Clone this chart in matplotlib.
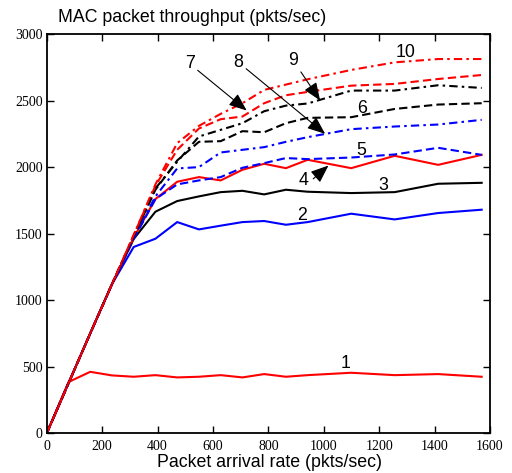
import matplotlib
matplotlib.use("Agg")
import matplotlib.pyplot as plt

# arrival rate (pkts/sec)
rate = [0, 78.5, 157, 235.5, 314, 392.5, 471, 549.5, 628, 706.5, 785, 863.5,
        942, 1099, 1256, 1413, 1570]

# MAC throughput (pkts/sec), one list per curve label
thr_1 = [0, 385, 462, 435, 425, 437, 420, 425, 437, 420, 445, 425, 437, 455, 437, 445, 425]
thr_2 = [0, 375, 750, 1120, 1400, 1462, 1587, 1532, 1560, 1587, 1595, 1567, 1587, 1650, 1607, 1655, 1680]
thr_3 = [0, 375, 750, 1120, 1460, 1665, 1745, 1780, 1812, 1822, 1795, 1830, 1815, 1805, 1812, 1875, 1882]
thr_4 = [0, 375, 750, 1120, 1470, 1760, 1890, 1925, 1900, 1980, 2025, 1992, 2055, 1992, 2085, 2017, 2092]
thr_5 = [0, 375, 750, 1120, 1460, 1760, 1870, 1900, 1925, 1995, 2030, 2068, 2060, 2072, 2095, 2145, 2092]
thr_6 = [0, 375, 750, 1120, 1480, 1830, 2050, 2190, 2195, 2270, 2262, 2330, 2370, 2375, 2437, 2470, 2480]
thr_7 = [0, 375, 750, 1120, 1490, 1860, 2130, 2290, 2360, 2380, 2480, 2540, 2565, 2612, 2625, 2662, 2692]
thr_8 = [0, 375, 750, 1120, 1470, 1780, 1990, 2000, 2110, 2130, 2150, 2190, 2225, 2285, 2305, 2320, 2355]
thr_9 = [0, 375, 750, 1120, 1480, 1840, 2040, 2230, 2280, 2330, 2420, 2462, 2478, 2575, 2575, 2615, 2595]
thr_10 = [0, 375, 750, 1120, 1490, 1870, 2180, 2310, 2400, 2480, 2580, 2620, 2660, 2730, 2787, 2812, 2812]

xticks = [0, 200, 400, 600, 800, 1000, 1200, 1400, 1600]
yticks = [0, 500, 1000, 1500, 2000, 2500, 3000]

RED, BLUE, BLACK = "#ff0000", "#0000ff", "#000000"
DASH = (4, 2)
DASHDOT = (4, 2, 1.2, 2)

curves = [
    (thr_1, RED, None), (thr_2, BLUE, None), (thr_3, BLACK, None),
    (thr_4, RED, None), (thr_5, BLUE, DASH), (thr_6, BLACK, DASH),
    (thr_7, RED, DASH), (thr_8, BLUE, DASHDOT), (thr_9, BLACK, DASHDOT),
    (thr_10, RED, DASHDOT),
]

fig = plt.figure(figsize=(5.12, 4.73), dpi=100)
ax = fig.add_axes([0.0912, 0.0839, 0.8658, 0.8442])

for ys, col, dash in curves:
    line, = ax.plot(rate, ys, color=col, lw=1.5)
    if dash is not None:
        line.set_dashes(dash)

ax.set_xlim(0, 1600)
ax.set_ylim(0, 3000)
ax.set_xticks(xticks)
ax.set_yticks(yticks)
ax.tick_params(direction="in", length=5, width=1, top=True, right=True,
               labelsize=10, pad=3)
ax.tick_params(axis="x", pad=5)
for lab in ax.get_xticklabels() + ax.get_yticklabels():
    lab.set_family("Liberation Serif")
for sp in ax.spines.values():
    sp.set_linewidth(1.3)

sans = "Liberation Sans"
fs = 12.8
# curve labels
for txt, x, y in [("1", 1077, 525), ("2", 920, 1637), ("3", 1215, 1862),
                  ("4", 926, 1900), ("5", 1137, 2125), ("6", 1137, 2437),
                  ("10", 1297, 2862)]:
    ax.text(x, y, txt, family=sans, fontsize=fs, ha="center", va="center")

arrow = dict(arrowstyle="-|>,head_length=0.55,head_width=0.22", color="k",
             lw=0.8, mutation_scale=20, shrinkA=0, shrinkB=0)
ax.annotate("7", xy=(722, 2425), xytext=(517, 2775), family=sans, fontsize=fs,
            ha="center", va="center", arrowprops=arrow)
ax.annotate("8", xy=(1005, 2250), xytext=(692, 2787), family=sans, fontsize=fs,
            ha="center", va="center", arrowprops=arrow)
ax.annotate("9", xy=(987, 2500), xytext=(890, 2800), family=sans, fontsize=fs,
            ha="center", va="center", arrowprops=arrow)
ax.annotate("", xy=(1017, 2012), xytext=(962, 1912), arrowprops=arrow)

fig.text(0.113, 0.963, "MAC packet throughput (pkts/sec)", family=sans,
         fontsize=fs, ha="left", va="center")
fig.text(0.527, 0.004, "Packet arrival rate (pkts/sec)", family=sans,
         fontsize=fs, ha="center", va="bottom")

fig.savefig("out.png", dpi=100)
